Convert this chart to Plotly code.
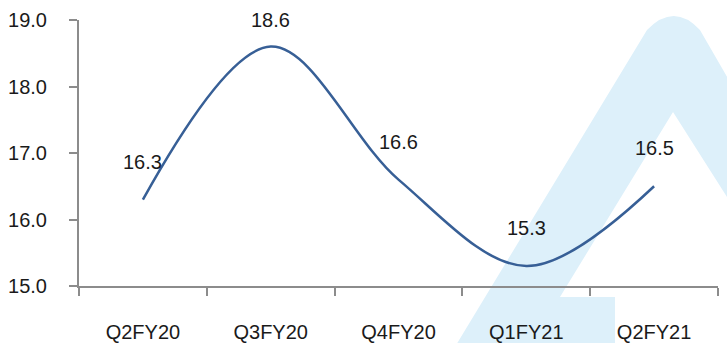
import plotly.graph_objects as go

# Quarterly values
quarters = ["Q2FY20", "Q3FY20", "Q4FY20", "Q1FY21", "Q2FY21"]
values = [16.3, 18.6, 16.6, 15.3, 16.5]
y_ticks = [15.0, 16.0, 17.0, 18.0, 19.0]

W, H = 727, 343
M = dict(l=79, r=9, t=20, b=57)
Y_MIN, Y_MAX = 15.0, 19.0
FONT = "Liberation Sans, Arial, Helvetica, sans-serif"
FONT_SIZE = 20
AXIS_GREY = "#8C8C8C"
LINE_BLUE = "#375F96"
TEXT = "#1A1A1A"

plot_w = W - M["l"] - M["r"]
plot_h = H - M["t"] - M["b"]


def px_to_paper(x, y):
    return (x - M["l"]) / plot_w, (H - M["b"] - y) / plot_h


# Light background "A" watermark, outlined in figure pixels
outline = [("M", 447, 360), ("L", 647, 30), ("Q", 674, 2, 700, 30),
           ("L", 760, 134), ("L", 760, 249), ("L", 673, 112),
           ("L", 560, 297), ("L", 615, 297), ("L", 615, 360)]
parts = []
for cmd, *pts in outline:
    coords = []
    for i in range(0, len(pts), 2):
        px, py = px_to_paper(pts[i], pts[i + 1])
        coords.append(f"{px:.4f},{py:.4f}")
    parts.append(cmd + " " + " ".join(coords))
wm_path = " ".join(parts) + " Z"

fig = go.Figure()
fig.add_trace(go.Scatter(
    x=quarters, y=values, mode="lines",
    line=dict(color=LINE_BLUE, width=2.5, shape="spline", smoothing=1.0),
    cliponaxis=False, hoverinfo="x+y", showlegend=False,
))

# Value labels above each point, kept inside the chart area
px_per_unit = plot_h / (Y_MAX - Y_MIN)
annotations = []
for q, v in zip(quarters, values):
    point_px = M["t"] + (Y_MAX - v) * px_per_unit
    shift = min(38, point_px - 20)
    annotations.append(dict(
        x=q, y=v, text=f"{v:.1f}", showarrow=False, yshift=shift,
        xanchor="center", yanchor="middle",
        font=dict(family=FONT, size=FONT_SIZE, color=TEXT),
    ))

fig.update_layout(
    width=W, height=H, margin=dict(M, autoexpand=False),
    paper_bgcolor="white", plot_bgcolor="rgba(0,0,0,0)",
    font=dict(family=FONT, size=FONT_SIZE, color=TEXT),
    annotations=annotations,
    shapes=[dict(type="path", xref="paper", yref="paper", path=wm_path,
                 fillcolor="#DDF0FA", line=dict(width=0), layer="below")],
    xaxis=dict(
        type="category", range=[-0.5, len(quarters) - 0.5],
        showline=True, linecolor=AXIS_GREY, linewidth=2,
        ticks="outside", tickson="boundaries", ticklen=8,
        tickwidth=2, tickcolor=AXIS_GREY, showgrid=False,
        tickfont=dict(family=FONT, size=FONT_SIZE, color=TEXT),
        ticklabelstandoff=27, automargin=False,
    ),
    yaxis=dict(
        range=[Y_MIN, Y_MAX], tickvals=y_ticks, tickformat=".1f",
        showline=True, linecolor=AXIS_GREY, linewidth=2,
        ticks="outside", ticklen=8, tickwidth=2, tickcolor=AXIS_GREY,
        showgrid=False, zeroline=False,
        tickfont=dict(family=FONT, size=FONT_SIZE, color=TEXT),
        ticklabelstandoff=18, automargin=False,
    ),
)

fig.write_html("out.html")
